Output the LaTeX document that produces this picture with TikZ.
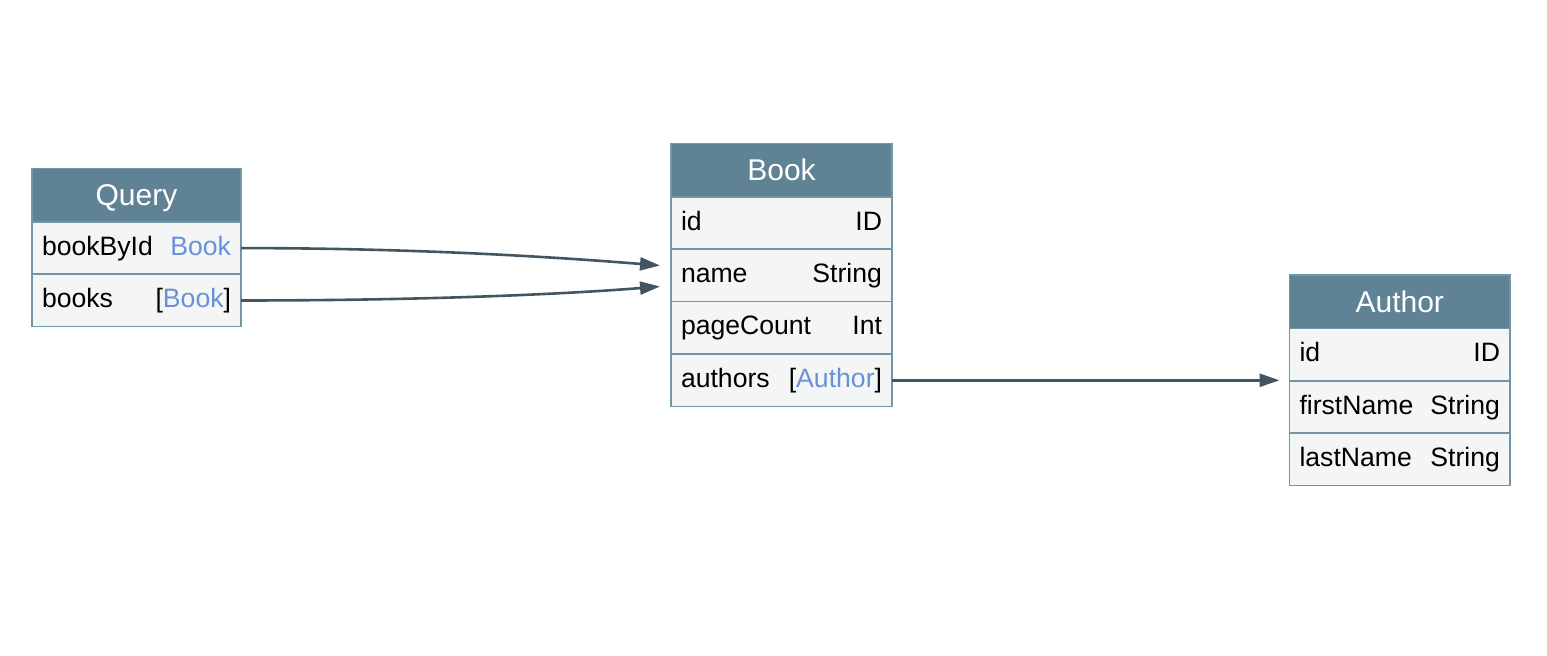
\documentclass[tikz,border=0pt]{standalone}
\usepackage{fontspec}
\setmainfont{Liberation Sans}
\usetikzlibrary{arrows.meta,positioning,calc}
\definecolor{headfill}{HTML}{5F8294}
\definecolor{boxline}{HTML}{7196A8}
\definecolor{rowfill}{HTML}{F4F6F6}
\definecolor{typeblue}{HTML}{6891DA}
\definecolor{linkdark}{HTML}{435561}
\newcommand{\tref}[1]{\textcolor{typeblue}{#1}}
\tikzset{
    box line/.style={draw=boxline,line width=0.8pt,outer sep=0pt,inner xsep=5pt,inner ysep=0pt},
    header/.style={box line,fill=headfill,text=white,font=\fontsize{15}{18}\selectfont,
        minimum height=26.7pt,text width=#1,align=center,text height=10.9pt,text depth=0.3pt},
    field/.style={box line,fill=rowfill,text=black,font=\fontsize{13.3}{16}\selectfont,
        minimum height=26.2pt,text width=#1,text height=9.7pt,text depth=2.6pt},
    arr/.style={-{Triangle[length=10pt,width=6.5pt]},line width=1.3pt,draw=linkdark},
}
\begin{document}
\begin{tikzpicture}[x=0.5pt,y=-0.5pt]
    \useasboundingbox (0,0) rectangle (1547,656);
    \begin{scope}
        \node[header=94.5pt,anchor=north west] (q) at (32,168.5) {Query};
        \node[field=94.5pt,below=0pt of q] (q-bookById) {bookById\hfill\tref{Book}};
        \node[field=94.5pt,below=0pt of q-bookById] (q-books) {books\hfill[\tref{Book}]};
    \end{scope}
    \begin{scope}
        \node[header=100.5pt,anchor=north west] (b) at (671,143.5) {Book};
        \node[field=100.5pt,below=0pt of b] (b-id) {id\hfill ID};
        \node[field=100.5pt,below=0pt of b-id] (b-name) {name\hfill String};
        \node[field=100.5pt,below=0pt of b-name] (b-pageCount) {pageCount\hfill Int};
        \node[field=100.5pt,below=0pt of b-pageCount] (b-authors) {authors\hfill[\tref{Author}]};
    \end{scope}
    \begin{scope}
        \node[header=100.25pt,anchor=north west] (a) at (1289.5,275) {Author};
        \node[field=100.25pt,below=0pt of a] (a-id) {id\hfill ID};
        \node[field=100.25pt,below=0pt of a-id] (a-firstName) {firstName\hfill String};
        \node[field=100.25pt,below=0pt of a-firstName] (a-lastName) {lastName\hfill String};
    \end{scope}
    \draw[arr] (q-bookById.east) .. controls +(180,0) and +(-100,-8) .. ($(b-name.west)+(-11,-10)$);
    \draw[arr] (q-books.east) .. controls +(180,0) and +(-100,8) .. ($(b-name.west)+(-11,11)$);
    \draw[arr] (b-authors.east) -- ($(b-authors.east -| a-firstName.west)+(-10,0)$);
\end{tikzpicture}
\end{document}
